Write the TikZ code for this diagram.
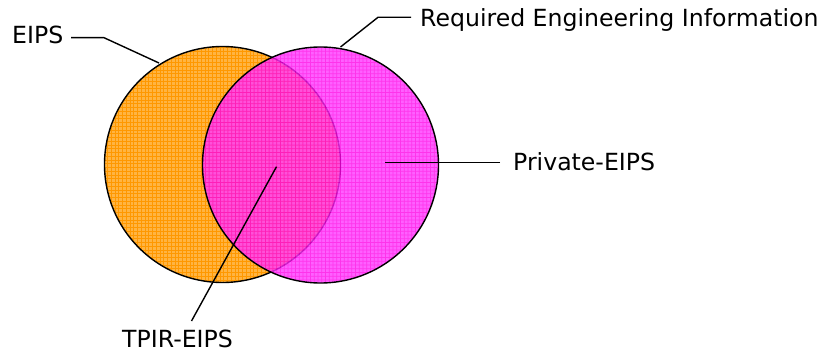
\documentclass[tikz,border=0pt]{standalone}
\usepackage{fontspec}
\setmainfont{DejaVu Sans}
\definecolor{orbase}{RGB}{255,180,66}
\definecolor{orline}{RGB}{255,152,0}
\definecolor{mgbase}{RGB}{255,55,255}
\definecolor{mgline}{RGB}{255,0,230}
\begin{document}
\begin{tikzpicture}[x=1pt,y=-1pt,
  lbl/.style={anchor=base west,inner sep=0pt,font=\fontsize{23.6}{23.6}\selectfont},
  leader/.style={draw=black,line width=1.4pt},
  rim/.style={draw=black,line width=1.4pt},
  gridline/.style={line width=0.75pt}]
\useasboundingbox (0,0) rectangle (822,352);
% orange circle
\coordinate (oc) at (222.5,164.5);
\coordinate (mc) at (320.5,165);
\fill[orbase] (oc) circle[radius=118];
\begin{scope}
  \clip (oc) circle[radius=118];
  \foreach \g in {100,103.75,...,346} \draw[orline,gridline] (\g,40) -- (\g,290);
  \foreach \g in {40,43.75,...,290} \draw[orline,gridline] (100,\g) -- (346,\g);
\end{scope}
\draw[rim] (oc) circle[radius=118];
% magenta circle
\begin{scope}[transparency group,opacity=0.8]
  \fill[mgbase] (mc) circle[radius=118];
  \begin{scope}
    \clip (mc) circle[radius=118];
    \foreach \g in {198,201.75,...,445} \draw[mgline,gridline] (\g,40) -- (\g,290);
    \foreach \g in {40,43.75,...,290} \draw[mgline,gridline] (198,\g) -- (445,\g);
  \end{scope}
\end{scope}
\draw[rim] (mc) circle[radius=118];
% labels
\node[lbl] (eips) at (12,44) {EIPS};
\node[lbl] (rei) at (420,26.5) {Required Engineering Information};
\node[lbl] (priv) at (513,170.5) {Private-EIPS};
\node[lbl] (tpir) at (122,348) {TPIR-EIPS};
% leader coordinates
\coordinate (e1) at (71,37.7);
\coordinate (e2) at (104,37.7);
\coordinate (e3) at (159,63);
\coordinate (r1) at (411,17.3);
\coordinate (r2) at (378,17.3);
\coordinate (r3) at (340.5,47);
\coordinate (p1) at (500,162.3);
\coordinate (p2) at (385,162.3);
\coordinate (t1) at (191.5,321);
\coordinate (t2) at (276.5,166.7);
\draw[leader] (e1) -- (e2) -- (e3);
\draw[leader] (r1) -- (r2) -- (r3);
\draw[leader] (p1) -- (p2);
\draw[leader] (t1) -- (t2);
\end{tikzpicture}
\end{document}
